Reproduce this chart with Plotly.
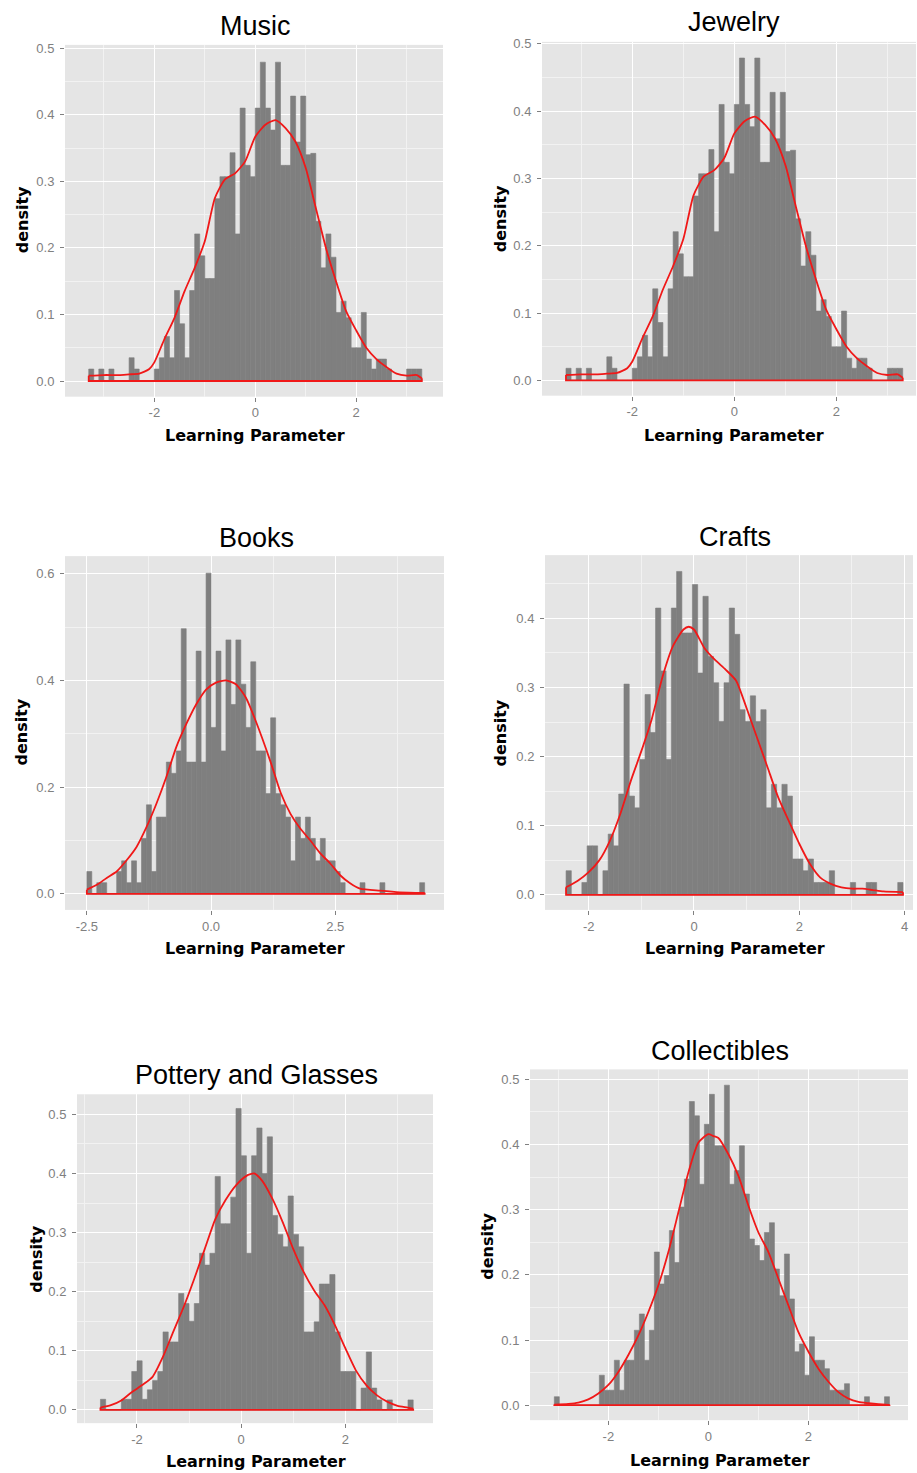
import plotly.graph_objects as go

W, H = 917, 1473
BW = 0.1  # histogram bin width

# ---------------- data ----------------
titles = ["Music", "Jewelry", "Books", "Crafts", "Pottery and Glasses", "Collectibles"]

music_start = -3.3
music_density = [0.018, 0, 0.018, 0, 0.018, 0, 0, 0, 0.035, 0.018, 0, 0, 0, 0.018, 0.035,
                 0.067, 0.035, 0.136, 0.086, 0.035, 0.136, 0.221, 0.188, 0.154, 0.154, 0.274,
                 0.307, 0.307, 0.343, 0.221, 0.41, 0.324, 0.307, 0.41, 0.479, 0.41, 0.377,
                 0.479, 0.324, 0.324, 0.428, 0.359, 0.428, 0.34, 0.342, 0.24, 0.17, 0.221,
                 0.186, 0.103, 0.12, 0.095, 0.05, 0.05, 0.103, 0.033, 0.018, 0.033, 0.033,
                 0.018, 0, 0, 0, 0.018, 0.018, 0.018]
music_curve_x = [-3.3, -3.0, -2.7, -2.5, -2.3, -2.1, -2.0, -1.8, -1.6, -1.4, -1.2, -1.0, -0.8,
                 -0.6, -0.4, -0.2, 0.0, 0.2, 0.4, 0.6, 0.8, 1.0, 1.2, 1.4, 1.6, 1.8, 2.0, 2.2,
                 2.4, 2.6, 2.8, 3.0, 3.2, 3.3]
music_curve_y = [0.008, 0.009, 0.009, 0.010, 0.011, 0.018, 0.028, 0.063, 0.095, 0.135, 0.17,
                 0.21, 0.275, 0.303, 0.312, 0.33, 0.367, 0.385, 0.392, 0.38, 0.359, 0.32, 0.26,
                 0.2, 0.15, 0.105, 0.076, 0.05, 0.033, 0.021, 0.011, 0.008, 0.009, 0.004]

jewelry_start = -3.3
jewelry_density = [0.018, 0, 0.018, 0, 0.018, 0, 0, 0, 0.035, 0.018, 0, 0, 0, 0.018, 0.035,
                   0.067, 0.035, 0.136, 0.086, 0.035, 0.136, 0.221, 0.188, 0.154, 0.154, 0.274,
                   0.307, 0.307, 0.343, 0.221, 0.41, 0.324, 0.307, 0.41, 0.479, 0.41, 0.377,
                   0.479, 0.324, 0.324, 0.428, 0.359, 0.428, 0.34, 0.342, 0.24, 0.17, 0.221,
                   0.186, 0.103, 0.12, 0.095, 0.05, 0.05, 0.103, 0.033, 0.018, 0.033, 0.033,
                   0.018, 0, 0, 0, 0.018, 0.018, 0.018]
jewelry_curve_x = [-3.3, -3.0, -2.7, -2.5, -2.3, -2.1, -2.0, -1.8, -1.6, -1.4, -1.2, -1.0, -0.8,
                   -0.6, -0.4, -0.2, 0.0, 0.2, 0.4, 0.6, 0.8, 1.0, 1.2, 1.4, 1.6, 1.8, 2.0, 2.2,
                   2.4, 2.6, 2.8, 3.0, 3.2, 3.3]
jewelry_curve_y = [0.008, 0.009, 0.009, 0.010, 0.011, 0.018, 0.028, 0.063, 0.095, 0.135, 0.17,
                   0.21, 0.275, 0.303, 0.312, 0.33, 0.367, 0.385, 0.392, 0.38, 0.359, 0.32, 0.26,
                   0.2, 0.15, 0.105, 0.076, 0.05, 0.033, 0.021, 0.011, 0.008, 0.009, 0.004]

books_start = -2.5
books_density = [0.042, 0, 0.021, 0.021, 0, 0, 0.042, 0.062, 0.021, 0.062, 0.021, 0.104, 0.167,
                 0.042, 0.144, 0.144, 0.247, 0.226, 0.268, 0.497, 0.247, 0.247, 0.455, 0.247,
                 0.601, 0.312, 0.455, 0.268, 0.476, 0.355, 0.476, 0.393, 0.312, 0.435, 0.268,
                 0.268, 0.188, 0.330, 0.188, 0.167, 0.144, 0.062, 0.144, 0.104, 0.144, 0.104,
                 0.062, 0.104, 0.062, 0.062, 0.042, 0.021, 0, 0, 0, 0.021, 0, 0, 0, 0.021,
                 0, 0, 0, 0, 0, 0, 0, 0.021]
books_curve_x = [-2.5, -2.3, -2.1, -1.9, -1.7, -1.5, -1.3, -1.1, -0.9, -0.7, -0.5, -0.3, -0.1,
                 0.1, 0.3, 0.5, 0.7, 0.9, 1.2, 1.4, 1.6, 1.8, 2.0, 2.2, 2.4, 2.6, 2.8, 3.0,
                 3.4, 3.8, 4.3]
books_curve_y = [0.008, 0.017, 0.03, 0.042, 0.063, 0.088, 0.125, 0.169, 0.219, 0.275, 0.318,
                 0.355, 0.383, 0.396, 0.4, 0.393, 0.368, 0.324, 0.247, 0.19, 0.15, 0.122, 0.1,
                 0.076, 0.057, 0.035, 0.02, 0.01, 0.006, 0.003, 0.002]

crafts_start = -2.43
crafts_density = [0.035, 0, 0, 0.018, 0.071, 0.071, 0, 0.035, 0.088, 0.071, 0.146, 0.305, 0.143,
                  0.126, 0.196, 0.29, 0.235, 0.415, 0.324, 0.196, 0.415, 0.468, 0.379, 0.379,
                  0.449, 0.321, 0.432, 0.345, 0.307, 0.251, 0.307, 0.415, 0.377, 0.268, 0.251,
                  0.288, 0.251, 0.268, 0.126, 0.16, 0.126, 0.16, 0.143, 0.052, 0.052, 0.035,
                  0.052, 0.018, 0.018, 0.018, 0.035, 0, 0, 0, 0.018, 0, 0, 0.018, 0.018, 0,
                  0, 0, 0, 0.018]
crafts_curve_x = [-2.43, -2.2, -2.0, -1.8, -1.6, -1.4, -1.2, -1.0, -0.8, -0.6, -0.4, -0.2, -0.1,
                  0.0, 0.2, 0.4, 0.6, 0.8, 1.0, 1.2, 1.4, 1.6, 1.8, 2.0, 2.2, 2.4, 2.6, 2.8,
                  3.0, 3.2, 3.4, 3.6, 3.97]
crafts_curve_y = [0.011, 0.021, 0.033, 0.05, 0.078, 0.117, 0.165, 0.208, 0.255, 0.315, 0.36,
                  0.384, 0.388, 0.384, 0.357, 0.34, 0.326, 0.31, 0.27, 0.227, 0.184, 0.141,
                  0.107, 0.074, 0.045, 0.025, 0.016, 0.011, 0.009, 0.009, 0.007, 0.005, 0.004]

pottery_start = -2.7
pottery_density = [0.018, 0, 0, 0, 0.018, 0.018, 0.065, 0.083, 0.018, 0.034, 0.05, 0.065, 0.132,
                   0.115, 0.115, 0.197, 0.18, 0.15, 0.18, 0.265, 0.245, 0.265, 0.395, 0.315,
                   0.315, 0.36, 0.51, 0.43, 0.265, 0.43, 0.477, 0.40, 0.462, 0.329, 0.297,
                   0.276, 0.362, 0.297, 0.276, 0.132, 0.132, 0.149, 0.213, 0.213, 0.229, 0.132,
                   0.065, 0.065, 0.065, 0, 0.037, 0.098, 0.037, 0.017, 0, 0.017, 0, 0, 0, 0.017]
pottery_curve_x = [-2.7, -2.5, -2.3, -2.1, -1.9, -1.7, -1.5, -1.3, -1.1, -0.9, -0.7, -0.5, -0.3,
                   -0.1, 0.1, 0.25, 0.4, 0.6, 0.8, 1.0, 1.2, 1.4, 1.6, 1.8, 2.0, 2.2, 2.4, 2.6,
                   2.8, 3.0, 3.2, 3.3]
pottery_curve_y = [0.004, 0.008, 0.016, 0.03, 0.042, 0.056, 0.09, 0.133, 0.175, 0.222, 0.272,
                   0.322, 0.355, 0.38, 0.396, 0.4, 0.388, 0.357, 0.317, 0.272, 0.233, 0.202,
                   0.177, 0.143, 0.104, 0.067, 0.042, 0.025, 0.014, 0.007, 0.004, 0.002]

collect_start = -3.08
collect_density = [0.013, 0, 0, 0, 0, 0, 0, 0, 0, 0.046, 0.023, 0.023, 0.069, 0.023, 0.069,
                   0.069, 0.115, 0.14, 0.069, 0.115, 0.235, 0.186, 0.199, 0.268, 0.219, 0.304,
                   0.347, 0.466, 0.444, 0.339, 0.431, 0.477, 0.398, 0.398, 0.491, 0.339, 0.36,
                   0.398, 0.324, 0.255, 0.245, 0.222, 0.265, 0.28, 0.209, 0.168, 0.232, 0.163,
                   0.082, 0.094, 0.046, 0.105, 0.069, 0.069, 0.056, 0.023, 0.023, 0.023, 0.033,
                   0, 0, 0, 0.013, 0, 0, 0, 0.013]
collect_curve_x = [-3.08, -2.8, -2.6, -2.4, -2.2, -2.0, -1.8, -1.6, -1.4, -1.2, -1.0, -0.8, -0.6,
                   -0.4, -0.2, 0.0, 0.1, 0.2, 0.4, 0.6, 0.8, 1.0, 1.2, 1.4, 1.6, 1.8, 2.0, 2.2,
                   2.4, 2.6, 2.8, 3.0, 3.2, 3.4, 3.62]
collect_curve_y = [0.001, 0.002, 0.004, 0.009, 0.018, 0.031, 0.051, 0.077, 0.107, 0.143, 0.184,
                   0.235, 0.296, 0.357, 0.403, 0.416, 0.413, 0.41, 0.385, 0.352, 0.306, 0.265,
                   0.235, 0.194, 0.153, 0.112, 0.082, 0.056, 0.036, 0.02, 0.01, 0.005, 0.003,
                   0.0015, 0.0005]

# tick labels
xtick_int = [-2, 0, 2]
xtick_int4 = [-2, 0, 2, 4]
xtick_books = [-2.5, 0.0, 2.5]
ytick_05 = [0.0, 0.1, 0.2, 0.3, 0.4, 0.5]
ytick_04 = [0.0, 0.1, 0.2, 0.3, 0.4]
ytick_books = [0.0, 0.2, 0.4, 0.6]

# ---------------- styling / layout ----------------
BAR = "#7F7F7F"
RED = "#F01818"
PANEL_BG = "#E5E5E5"
TICK_COL = "#808080"

panels = [
    dict(start=music_start, dens=music_density, cx=music_curve_x, cy=music_curve_y,
         box=(65, 443, 40, 393), xr=[-3.77, 3.72], yr=[-0.0235, 0.505],
         xt=xtick_int, xfmt="{:.0f}", xminor=[-3, -1, 1, 3], yt=ytick_05,
         yminor=[0.05, 0.15, 0.25, 0.35, 0.45],
         title_pos=(255, 21), xlab_pos=(255, 432), ylab_pos=(22, 216)),
    dict(start=jewelry_start, dens=jewelry_density, cx=jewelry_curve_x, cy=jewelry_curve_y,
         box=(542, 916, 37, 392), xr=[-3.77, 3.56], yr=[-0.0227, 0.503],
         xt=xtick_int, xfmt="{:.0f}", xminor=[-3, -1, 1, 3], yt=ytick_05,
         yminor=[0.05, 0.15, 0.25, 0.35, 0.45],
         title_pos=(734, 17), xlab_pos=(734, 432), ylab_pos=(500, 215)),
    dict(start=books_start, dens=books_density, cx=books_curve_x, cy=books_curve_y,
         box=(65, 444, 553, 908), xr=[-2.94, 4.69], yr=[-0.030, 0.633],
         xt=xtick_books, xfmt="{:.1f}", xminor=[-1.25, 1.25, 3.75], yt=ytick_books,
         yminor=[0.1, 0.3, 0.5],
         title_pos=(256, 535), xlab_pos=(255, 947), ylab_pos=(22, 730)),
    dict(start=crafts_start, dens=crafts_density, cx=crafts_curve_x, cy=crafts_curve_y,
         box=(545, 913, 552, 908), xr=[-2.83, 4.16], yr=[-0.0217, 0.4916],
         xt=xtick_int4, xfmt="{:.0f}", xminor=[-1, 1, 3], yt=ytick_04,
         yminor=[0.05, 0.15, 0.25, 0.35, 0.45],
         title_pos=(735, 534), xlab_pos=(735, 947), ylab_pos=(501, 730)),
    dict(start=pottery_start, dens=pottery_density, cx=pottery_curve_x, cy=pottery_curve_y,
         box=(77, 433, 1093, 1423), xr=[-3.15, 3.68], yr=[-0.0224, 0.534],
         xt=xtick_int, xfmt="{:.0f}", xminor=[-3, -1, 1, 3], yt=ytick_05,
         yminor=[0.05, 0.15, 0.25, 0.35, 0.45],
         title_pos=(256, 1074), xlab_pos=(256, 1461), ylab_pos=(37, 1259)),
    dict(start=collect_start, dens=collect_density, cx=collect_curve_x, cy=collect_curve_y,
         box=(530, 908, 1068, 1420), xr=[-3.566, 3.99], yr=[-0.023, 0.5153],
         xt=xtick_int4, xfmt="{:.0f}", xminor=[-3, -1, 1, 3], yt=ytick_05,
         yminor=[0.05, 0.15, 0.25, 0.35, 0.45],
         title_pos=(720, 1050), xlab_pos=(720, 1460), ylab_pos=(488, 1246)),
]


def px(x):
    return x / W


def py(y):
    return 1 - y / H


fig = go.Figure()
layout = dict(
    width=W, height=H, autosize=False,
    margin=dict(l=0, r=0, t=0, b=0, pad=0),
    paper_bgcolor="white", plot_bgcolor=PANEL_BG,
    showlegend=False, hovermode=False,
    font=dict(family="Liberation Sans, Arial, sans-serif"),
)
annotations = []

for i, p in enumerate(panels, start=1):
    xa = "x" if i == 1 else f"x{i}"
    ya = "y" if i == 1 else f"y{i}"
    centers = [p["start"] + BW * (k + 0.5) for k in range(len(p["dens"]))]
    fig.add_trace(go.Bar(x=centers, y=p["dens"], width=BW,
                         marker=dict(color=BAR, line=dict(width=0.6, color=BAR)),
                         xaxis=xa, yaxis=ya))
    cx, cy = p["cx"], p["cy"]
    fig.add_trace(go.Scatter(x=cx, y=cy, mode="lines",
                             line=dict(color=RED, width=1.8, shape="spline", smoothing=0.6),
                             xaxis=xa, yaxis=ya))
    fig.add_trace(go.Scatter(x=[cx[-1], cx[-1], cx[0], cx[0]], y=[cy[-1], 0, 0, cy[0]],
                             mode="lines", line=dict(color=RED, width=1.8),
                             xaxis=xa, yaxis=ya))

    l, r, t, b = p["box"]
    common = dict(showgrid=True, gridcolor="white", gridwidth=1.2, zeroline=False,
                  showline=False, ticks="outside", ticklen=4, tickwidth=1,
                  tickcolor=TICK_COL, tickmode="array",
                  tickfont=dict(family="Liberation Sans, Arial", size=13, color=TICK_COL),
                  fixedrange=True)
    xkey = "xaxis" if i == 1 else f"xaxis{i}"
    ykey = "yaxis" if i == 1 else f"yaxis{i}"
    layout[xkey] = dict(common, domain=[px(l), px(r)], range=p["xr"], anchor=ya,
                        tickvals=p["xt"], ticktext=[p["xfmt"].format(v) for v in p["xt"]],
                        minor=dict(tickmode="array", tickvals=p["xminor"], showgrid=True,
                                   gridcolor="#F2F2F2", gridwidth=0.7, ticks=""))
    layout[ykey] = dict(common, domain=[py(b), py(t)], range=p["yr"], anchor=xa,
                        ticklabelstandoff=3,
                        tickvals=p["yt"], ticktext=["{:.1f}".format(v) for v in p["yt"]],
                        minor=dict(tickmode="array", tickvals=p["yminor"], showgrid=True,
                                   gridcolor="#F2F2F2", gridwidth=0.7, ticks=""))

    tx, ty = p["title_pos"]
    annotations.append(dict(text=titles[i - 1], x=px(tx), y=py(ty), xref="paper", yref="paper",
                            showarrow=False, xanchor="center", yanchor="middle",
                            font=dict(family="Liberation Sans, Arial", size=27, color="black")))
    lx, ly = p["xlab_pos"]
    annotations.append(dict(text="Learning Parameter", x=px(lx), y=py(ly), xref="paper",
                            yref="paper", showarrow=False, xanchor="center", yanchor="middle",
                            font=dict(family="DejaVu Sans", size=16, color="black",
                                      weight="bold")))
    dx, dy = p["ylab_pos"]
    annotations.append(dict(text="density", x=px(dx), y=py(dy), xref="paper", yref="paper",
                            showarrow=False, xanchor="center", yanchor="middle", textangle=-90,
                            font=dict(family="DejaVu Sans", size=16, color="black",
                                      weight="bold")))

layout["annotations"] = annotations
fig.update_layout(**layout)

fig.write_html("out.html", config={"displayModeBar": False},
               post_script="document.body.style.margin='0';")
